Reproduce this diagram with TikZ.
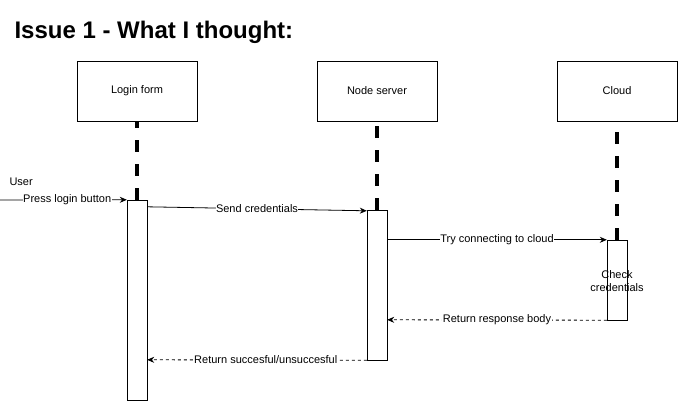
\documentclass[tikz,border=0pt]{standalone}
\usepackage{fontspec}
\setmainfont{Liberation Sans}
\usetikzlibrary{arrows.meta,calc}

\begin{document}
\begin{tikzpicture}[
    x=1pt,y=-1pt,
    actor/.style={rectangle,draw,minimum width=120pt,minimum height=60pt,align=center,font=\fontsize{11}{13}\selectfont},
    activation/.style={rectangle,draw,fill=white,minimum width=20pt,inner sep=0pt},
    lifeline/.style={line width=4pt,dash pattern=on 12pt off 12pt},
    msg/.style={-{Stealth[length=7pt,width=6pt]},line width=0.8pt},
    reply/.style={msg,dashed},
    msglabel/.style={fill=white,inner sep=0.5pt,font=\fontsize{11}{13}\selectfont}
]
\useasboundingbox (0,0) rectangle (678,401);

%--- Title ---%
\node[anchor=west,font=\fontsize{24}{28}\selectfont\bfseries] (title) at (11,32) {Issue 1 - What I thought:};

%--- Participants ---%
\node[actor] (login) at (137,91) {Login form};
\node[actor] (server) at (377,91) {Node server};
\node[actor] (cloud) at (617,91) {Cloud};

%--- Activation bars ---%
\node[activation,minimum height=200pt] (loginact) at (137,300) {};
\node[activation,minimum height=150pt] (serveract) at (377,285) {};
\node[activation,minimum height=80pt] (cloudact) at (617,280) {};

%--- Lifelines (drawn upward from the bars) ---%
\draw[lifeline] (loginact.north) -- (login.south);
\draw[lifeline] (serveract.north) -- (server.south);
\draw[lifeline] (cloudact.north) -- (cloud.south);

% redraw bars on top of the dashes
\node[activation,minimum height=200pt] at (loginact) {};
\node[activation,minimum height=150pt] at (serveract) {};
\node[activation,minimum height=80pt] at (cloudact) {};

%--- User entry ---%
\coordinate (user) at (0,200);
\node[anchor=west,font=\fontsize{11}{13}\selectfont] (userlabel) at (6,182) {User};
\draw[msg] (user) -- node[msglabel,pos=0.53] {Press login button} (loginact.north west);

%--- Requests ---%
\draw[msg] ($(loginact.north east)+(0,7)$) -- node[msglabel] {Send credentials} ($(serveract.north west)+(0,1)$);
\draw[msg] ($(serveract.north east)+(0,30)$) -- node[msglabel] {Try connecting to cloud} (cloudact.north west);

\node[align=center,font=\fontsize{11}{13}\selectfont] (check) at (617,281) {Check\\credentials};

%--- Replies ---%
\draw[reply] (cloudact.south west) -- node[msglabel] {Return response body} ($(serveract.north east)+(0,110)$);
\draw[reply] (serveract.south west) -- node[msglabel,pos=0.46] {Return succesful/unsuccesful} ($(loginact.north east)+(0,160)$);

\end{tikzpicture}
\end{document}
